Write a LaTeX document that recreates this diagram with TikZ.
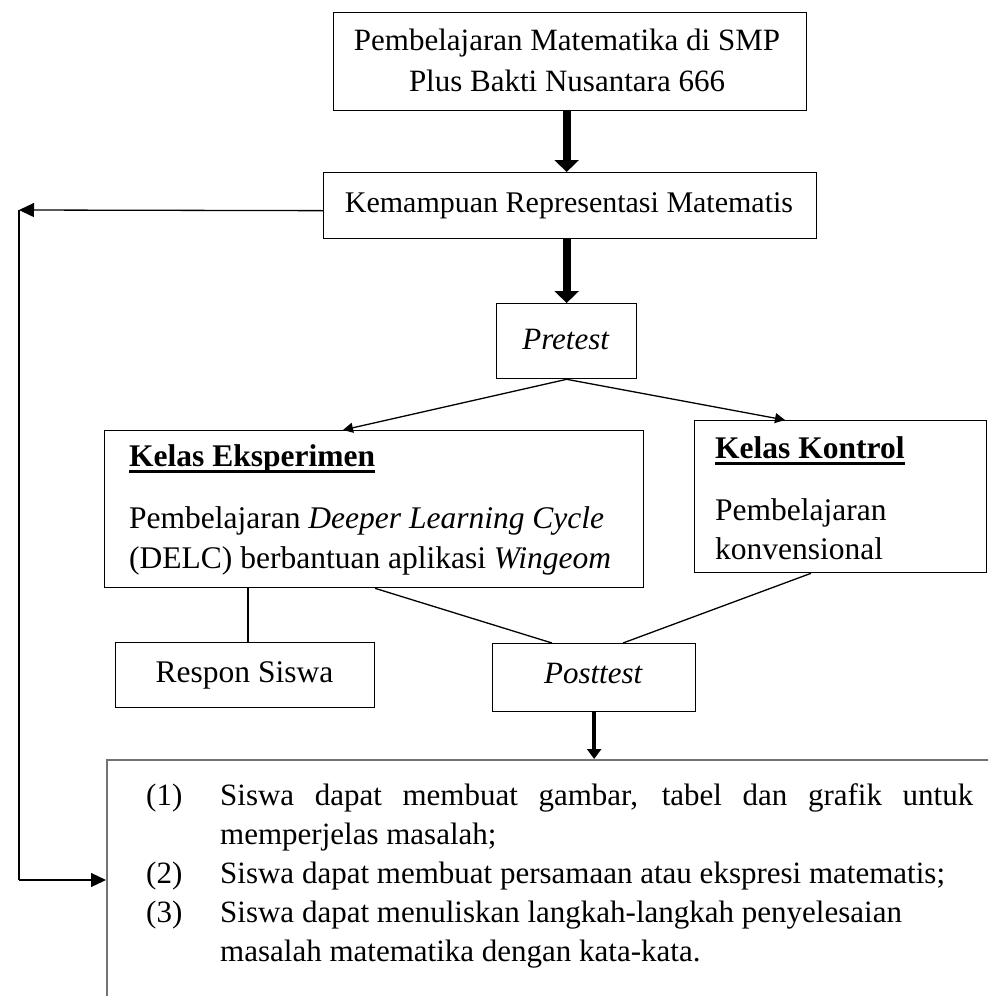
\documentclass[tikz,border=0pt]{standalone}
\usepackage{fontspec}
\setmainfont{Liberation Serif}
\usetikzlibrary{arrows.meta}
\newcommand\ulbf[1]{\setbox0=\hbox{\textbf{#1}}\rlap{\rule[-7pt]{\wd0}{2.6pt}}\box0}
\newcommand\fsTop{\fontsize{31}{40}\selectfont}
\newcommand\fsKem{\fontsize{30}{36}\selectfont}
\newcommand\fsBox{\fontsize{31.5}{40}\selectfont}
\newcommand\fsList{\fontsize{31}{39}\selectfont}
\begin{document}
\begin{tikzpicture}[x=1pt,y=-1pt,
  box/.style={draw, line width=1.3pt, inner sep=0pt, anchor=north west},
  listbox/.style={draw=black!55, line width=1.5pt, inner sep=0pt, anchor=north west},
  txt/.style={inner sep=0pt, anchor=base},
  txtl/.style={inner sep=0pt, anchor=base west},
  bigarrow/.style={line width=8pt, -{Triangle[width=24pt,length=12pt]}},
  postarrow/.style={line width=4.5pt, -{Triangle[width=14pt,length=10pt]}},
  thinarrow/.style={line width=1.3pt, -{Triangle[width=10pt,length=10pt]}},
  fbarrow/.style={line width=1.3pt, -{Triangle[width=14pt,length=15pt]}},
  plain/.style={line width=1.3pt}]
\useasboundingbox (0,0) rectangle (988,996);
\clip (0,0) rectangle (988,996);
\fill[white] (0,0) rectangle (988,996);

% boxes
\node[box, minimum width=473pt, minimum height=98pt] (top) at (333,12) {};
\node[box, minimum width=493pt, minimum height=66pt] (kem) at (323,172) {};
\node[box, minimum width=140pt, minimum height=75pt] (pre) at (496,303) {};
\node[box, minimum width=539pt, minimum height=157pt] (eksp) at (104,430) {};
\node[box, minimum width=292pt, minimum height=152pt] (kon) at (694,420) {};
\node[box, minimum width=259pt, minimum height=65pt] (resp) at (115,642) {};
\node[box, minimum width=203pt, minimum height=68pt] (post) at (492,643) {};
\node[listbox, minimum width=900pt, minimum height=260pt] (list) at (106,759) {};

% texts
\node[txt, font=\fsTop] (topA) at (567,50) {Pembelajaran Matematika di SMP};
\node[txt, font=\fsTop] (topB) at (567,91) {Plus Bakti Nusantara 666};
\node[txt, font=\fsKem] (kemT) at (569,212) {Kemampuan Representasi Matematis};
\node[txt, font=\fsTop] (preT) at (566,349) {\textit{Pretest}};
\node[txtl, font=\fsBox] (ekspA) at (129,466) {\ulbf{Kelas Eksperimen}};
\node[txtl, font=\fsBox] (ekspB) at (129,528) {Pembelajaran \textit{Deeper Learning Cycle}};
\node[txtl, font=\fsBox] (ekspC) at (129,568) {(DELC) berbantuan aplikasi \textit{Wingeom}};
\node[txtl, font=\fsBox] (konA) at (715,458) {\ulbf{Kelas Kontrol}};
\node[txtl, font=\fsBox] (konB) at (715,520) {Pembelajaran};
\node[txtl, font=\fsBox] (konC) at (715,559) {konvensional};
\node[txt, font=\fsBox] (respT) at (244.5,682) {Respon Siswa};
\node[txt, font=\fsTop] (postT) at (593.5,683) {\textit{Posttest}};
\node[txtl, font=\fsList] (items) at (146,805) {%
\begin{tabular}[t]{@{}p{74pt}@{}l@{}}
(1)&\makebox[753pt][s]{Siswa dapat membuat gambar, tabel dan grafik untuk}\\
&memperjelas masalah;\\
(2)&Siswa dapat membuat persamaan atau ekspresi matematis;\\
(3)&Siswa dapat menuliskan langkah-langkah penyelesaian\\
&masalah matematika dengan kata-kata.
\end{tabular}};

% connectors
\draw[bigarrow] ([xshift=-3.5pt]top.south) -- ([xshift=-3.5pt]kem.north);
\draw[bigarrow] ([xshift=-3.5pt]kem.south) -- (pre.north);
\draw[thinarrow] (pre.south) -- ([xshift=239pt]eksp.north west);
\draw[thinarrow] (pre.south) -- ([xshift=91pt]kon.north west);
\draw[plain] ([xshift=144pt]eksp.south west) -- ([xshift=133pt]resp.north west);
\draw[plain] ([xshift=271pt]eksp.south west) -- ([xshift=60pt]post.north west);
\draw[plain] ([xshift=117pt]kon.south west) -- ([xshift=131pt]post.north west);
\draw[postarrow] (post.south) -- (post.south |- list.north);

\coordinate (fbT) at (19,210);
\coordinate (fbB) at (19,880);
\draw[fbarrow] ([yshift=-5pt]kem.west) -- (fbT);
\draw[plain] (fbT) -- (fbB);
\draw[fbarrow] (fbB) -- (fbB -| list.west);
\end{tikzpicture}
\end{document}
